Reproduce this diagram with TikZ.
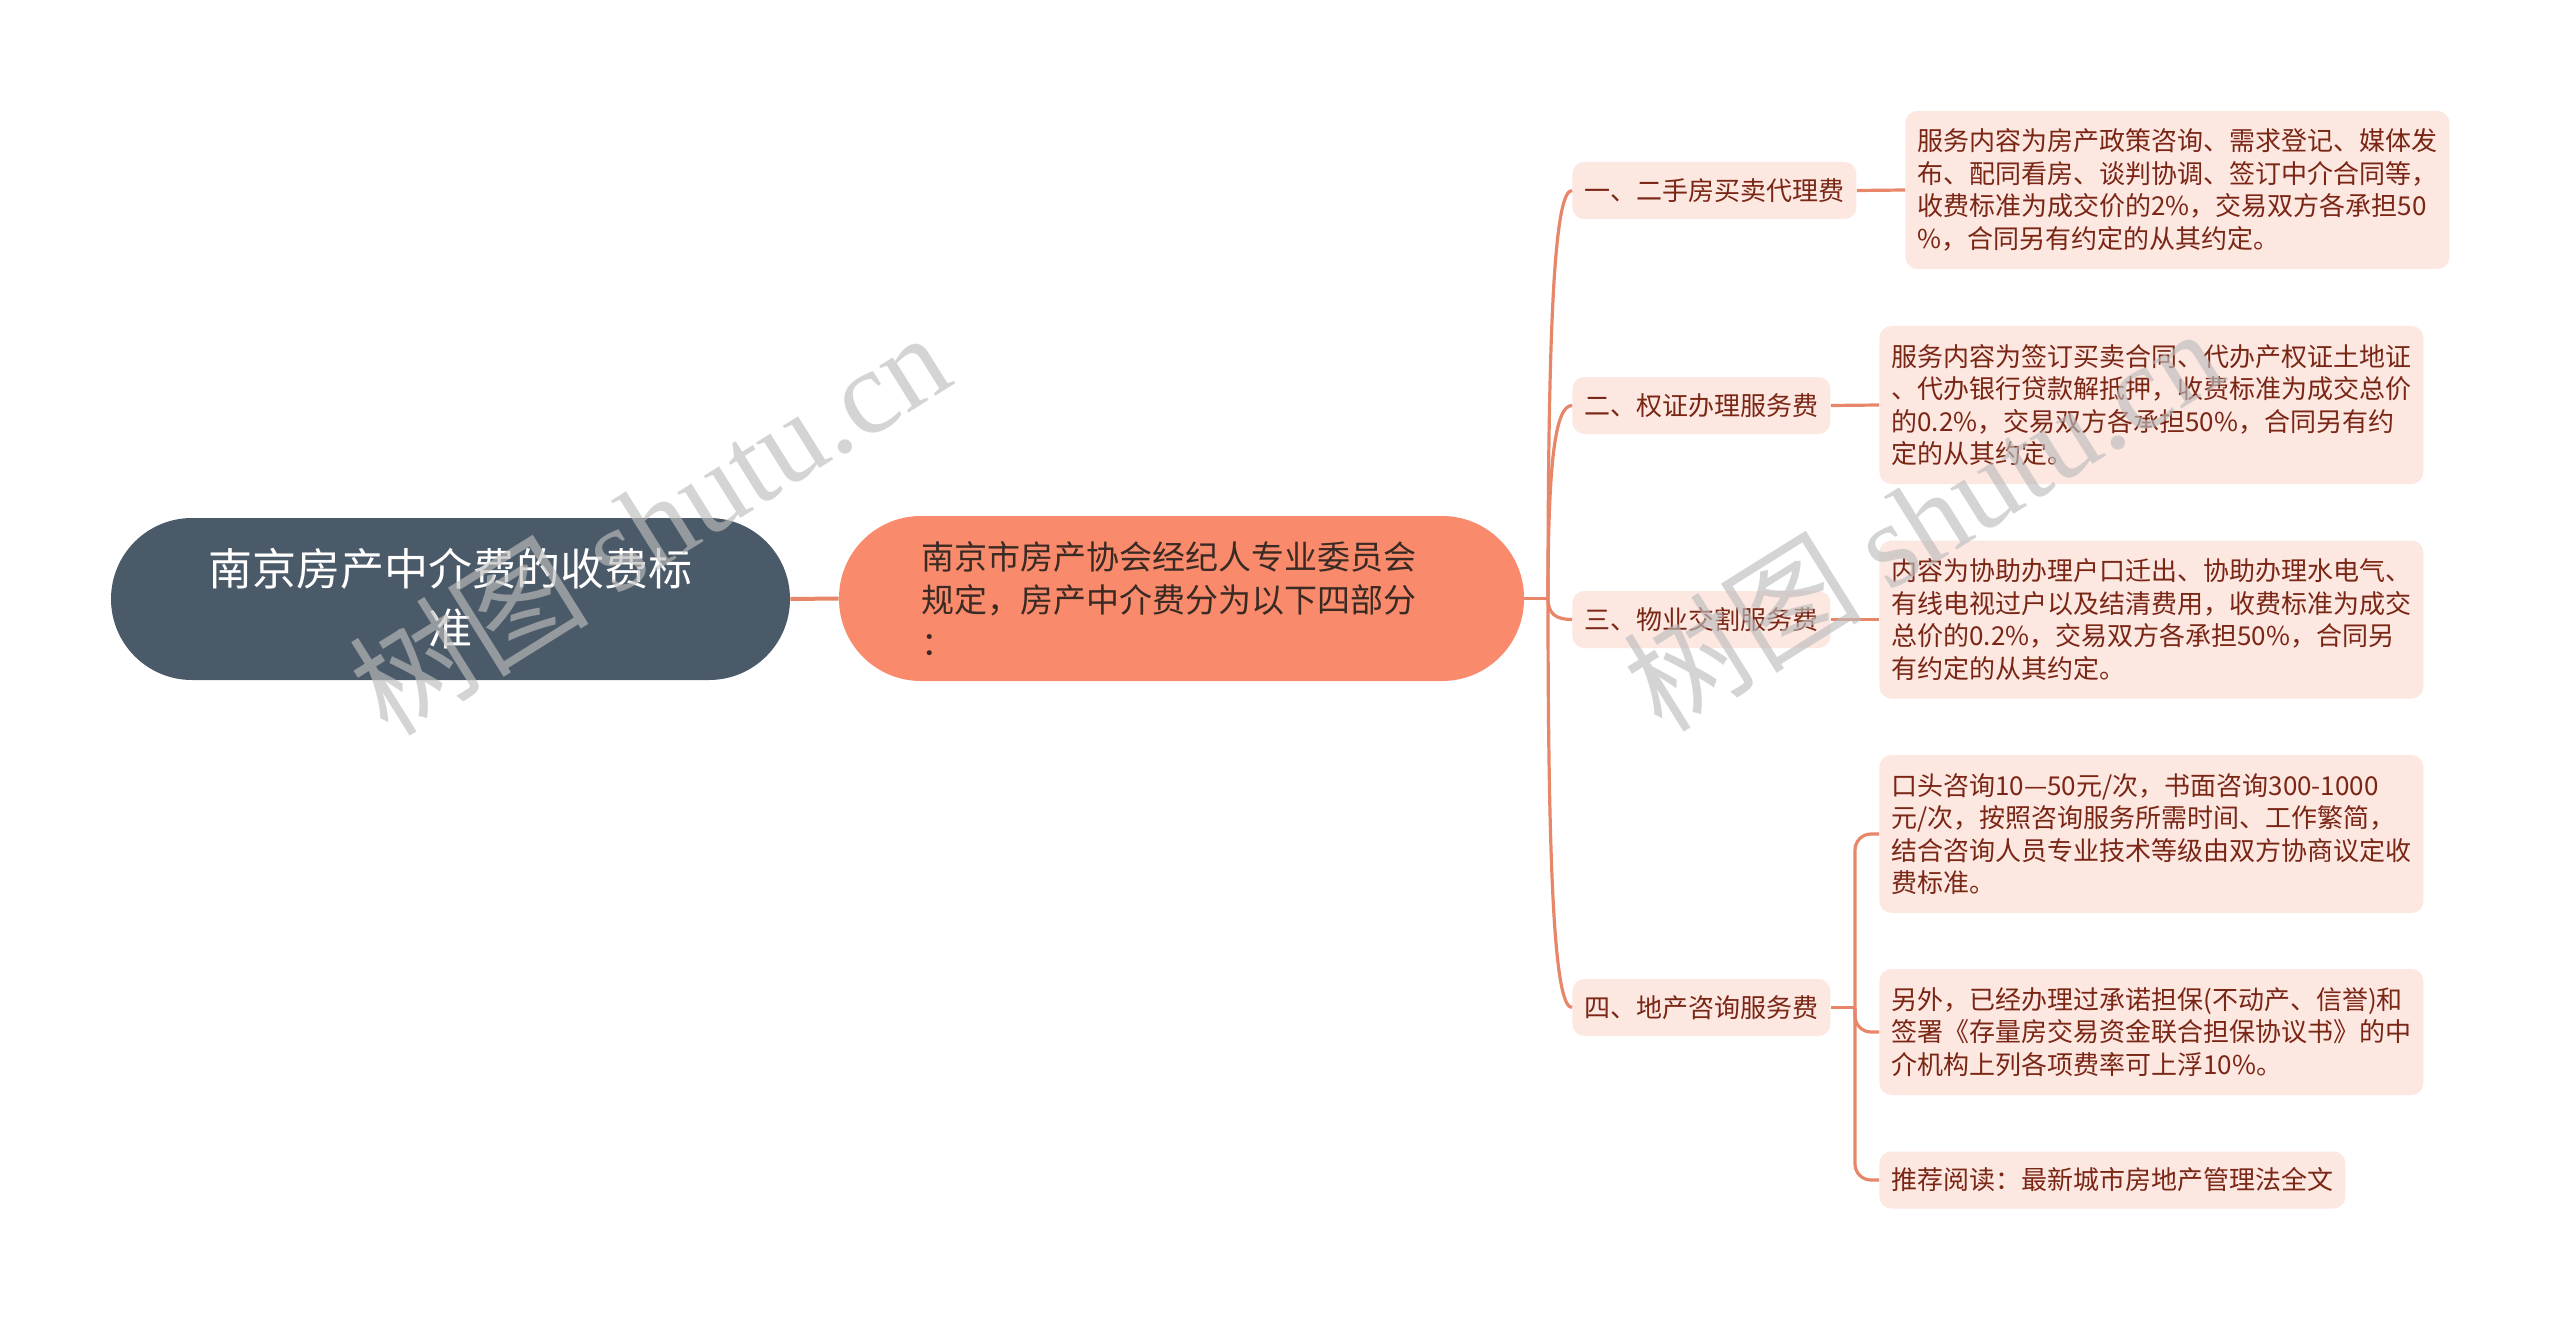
\documentclass[tikz,border=0pt]{standalone}
\usepackage{fontspec}
\setmainfont{Noto Sans CJK SC}
\newfontfamily\wmserif{Liberation Serif}
\newfontfamily\wmcjk{Noto Sans CJK SC}
\definecolor{rootfill}{HTML}{4B5A69}
\definecolor{midfill}{HTML}{F98A6B}
\definecolor{leaffill}{HTML}{FDE7E1}
\definecolor{leaftext}{HTML}{7A2615}
\definecolor{midtext}{HTML}{3A2A24}
\definecolor{linec}{HTML}{E8866A}
\definecolor{wmgray}{HTML}{BDBDBD}
\tikzset{
  conn/.style={draw=linec, line width=1.6pt},
  rootbox/.style={fill=rootfill, rounded corners=40.5pt, minimum width=339.5pt, minimum height=81pt,
    text=white, align=center, font=\fontsize{22pt}{30pt}\selectfont, inner sep=0pt},
  midbox/.style={fill=midfill, rounded corners=41pt, minimum width=342.5pt, minimum height=82.5pt,
    text=midtext, text width=260pt, align=left, font=\fontsize{16.5pt}{21.5pt}\selectfont, inner xsep=41pt, inner ysep=0pt},
  lvbox/.style={fill=leaffill, rounded corners=6pt, minimum height=28.5pt, inner xsep=6pt, inner ysep=0pt,
    text=leaftext, font=\fontsize{13pt}{16.25pt}\selectfont, anchor=west},
  leafbox/.style={lvbox, align=left},
  wm/.style={text=wmgray, text opacity=0.65, rotate=32, inner sep=0pt}
}
\begin{document}
\begin{tikzpicture}[x=0.5pt, y=-0.5pt]
\fill[white] (0,0) rectangle (2560,1321);
\useasboundingbox (0,0) rectangle (2560,1321);

\node[rootbox] (root) at (450.5,599) {南京房产中介费的收费标\\准};
\node[midbox] (mid) at (1181.5,598.5) {南京市房产协会经纪人专业委员会\\规定，房产中介费分为以下四部分\\：};

\node[lvbox] (l1) at (1572,190.5) {一、二手房买卖代理费};
\node[lvbox] (l2) at (1572,405.5) {二、权证办理服务费};
\node[lvbox] (l3) at (1572,619.5) {三、物业交割服务费};
\node[lvbox] (l4) at (1572,1007.5) {四、地产咨询服务费};

\node[leafbox, minimum height=79pt, text width=260pt] (a1) at (1905,190) {服务内容为房产政策咨询、需求登记、媒体发\\布、配同看房、谈判协调、签订中介合同等，\\收费标准为成交价的2\%，交易双方各承担50\\\%，合同另有约定的从其约定。};
\node[leafbox, minimum height=79pt, text width=260pt] (a2) at (1879,405) {服务内容为签订买卖合同、代办产权证土地证\\、代办银行贷款解抵押，收费标准为成交总价\\的0.2\%，交易双方各承担50\%，合同另有约\\定的从其约定。};
\node[leafbox, minimum height=79pt, text width=260pt] (a3) at (1879,619.5) {内容为协助办理户口迁出、协助办理水电气、\\有线电视过户以及结清费用，收费标准为成交\\总价的0.2\%，交易双方各承担50\%，合同另\\有约定的从其约定。};
\node[leafbox, minimum height=79pt, text width=260pt] (a4) at (1879,834) {口头咨询10—50元/次，书面咨询300-1000\\元/次，按照咨询服务所需时间、工作繁简，\\结合咨询人员专业技术等级由双方协商议定收\\费标准。};
\node[leafbox, minimum height=63pt, text width=260pt] (a5) at (1879,1032) {另外，已经办理过承诺担保(不动产、信誉)和\\签署《存量房交易资金联合担保协议书》的中\\介机构上列各项费率可上浮10\%。};
\node[leafbox] (a6) at (1879,1180) {推荐阅读：最新城市房地产管理法全文};

\coordinate (j) at (1548,598.5);
\coordinate (k) at (1855,1007.5);

\draw[conn, line width=2pt] (root.east) -- (mid.west);
\draw[conn] (mid.east) -- (j);
\draw[conn] (j) .. controls (1548,298) and (1556,190.5) .. (l1.west);
\draw[conn] (j) .. controls (1548,456) and (1556,405.5) .. (l2.west);
\draw[conn] (j) .. controls (1548,614) and (1556,619.5) .. (l3.west);
\draw[conn] (j) .. controls (1548,899) and (1556,1007.5) .. (l4.west);

\draw[conn] (l1.east) -- (a1.west);
\draw[conn] (l2.east) -- (a2.west);
\draw[conn] (l3.east) -- (a3.west);
\draw[conn] (l4.east) -- (k);
\draw[conn, rounded corners=8pt] (k) |- (a4.west);
\draw[conn, rounded corners=8pt] (k) |- (a5.west);
\draw[conn, rounded corners=8pt] (k) |- (a6.west);

\node[wm] (wm1) at (649,522) {\fontsize{60pt}{60pt}\selectfont\wmcjk 树图 \wmserif shutu.cn};
\node[wm] (wm2) at (1922,518) {\fontsize{60pt}{60pt}\selectfont\wmcjk 树图 \wmserif shutu.cn};
\end{tikzpicture}
\end{document}
